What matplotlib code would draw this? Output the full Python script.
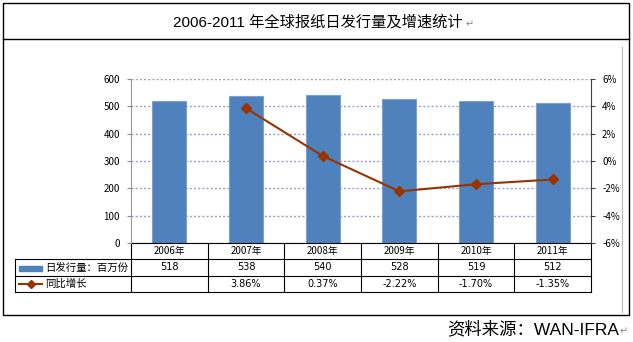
import numpy as np
import matplotlib.pyplot as plt
from matplotlib.lines import Line2D
from matplotlib.patches import Rectangle
from matplotlib.transforms import blended_transform_factory

plt.rcParams['font.family'] = ['Noto Sans CJK SC', 'DejaVu Sans']

# data
years = ["2006年", "2007年", "2008年", "2009年", "2010年", "2011年"]
circulation = [518, 538, 540, 528, 519, 512]
growth = [None, 3.86, 0.37, -2.22, -1.70, -1.35]

TITLE = "2006-2011 年全球报纸日发行量及增速统计"
BAR_LABEL = "日发行量：百万份"
LINE_LABEL = "同比增长"
SOURCE = "资料来源：WAN-IFRA"

BAR_COLOR = "#4F81BD"
LINE_COLOR = "#993300"
GRID_COLOR = "#A09CCB"

W, H = 633, 342
fig = plt.figure(figsize=(W / 100, H / 100), dpi=100)


def fx(px):
    return px / W


def fy(py):
    return 1 - py / H


# axes placement (pixels of the reference)
L, R, T, B = 131, 591, 79, 243
ax = fig.add_axes([fx(L), fy(B), fx(R) - fx(L), fy(T) - fy(B)])
ax2 = ax.twinx()

x = np.arange(len(years))
ax.bar(x, circulation, width=0.44, color=BAR_COLOR, edgecolor="#7DA0CE",
       linewidth=0.8, zorder=2)
ax.set_xlim(-0.5, len(years) - 0.5)
ax.set_ylim(0, 600)
ax.set_yticks(np.arange(0, 601, 100))
ax.yaxis.grid(True, color=GRID_COLOR, linestyle=(0, (1.5, 1.5)), linewidth=1)
ax.set_axisbelow(True)
ax.set_xticks([])
ax.tick_params(axis="y", length=3, color="#888888", labelsize=7, pad=5)
for s in ["top", "bottom", "right"]:
    ax.spines[s].set_visible(False)
ax.spines["left"].set_color("#999999")

gx = [i for i, g in zip(x, growth) if g is not None]
gy = [g for g in growth if g is not None]
ax2.plot(gx, gy, color=LINE_COLOR, linewidth=1.5, marker="D", markersize=5,
         zorder=3)
ax2.set_ylim(-6, 6)
ax2.set_yticks(np.arange(-6, 7, 2))
ax2.set_yticklabels(["%d%%" % v for v in range(-6, 7, 2)])
ax2.tick_params(axis="y", length=3, color="#404040", labelsize=7, pad=5)
for s in ["top", "bottom", "left"]:
    ax2.spines[s].set_visible(False)
ax2.spines["right"].set_color("#404040")

# data table under the chart
tr = blended_transform_factory(ax.transData, ax.transAxes)
ah = B - T
r1 = -(259 - B) / ah
r2 = -(276 - B) / ah
r3 = -(292 - B) / ah
left_ax = (15 - L) / (R - L)
kw = dict(color="black", linewidth=0.8, clip_on=False)
# horizontal lines
ax.add_line(Line2D([0, 1], [0, 0], transform=ax.transAxes, **kw))
for yy in [r1, r2, r3]:
    ax.add_line(Line2D([left_ax, 1], [yy, yy], transform=ax.transAxes, **kw))
# vertical lines
ax.add_line(Line2D([left_ax, left_ax], [r1, r3], transform=ax.transAxes, **kw))
for b in np.arange(-0.5, len(years), 1.0):
    ax.add_line(Line2D([b, b], [0, r3], transform=tr, **kw))

for i, yr in enumerate(years):
    ax.text(i, r1 / 2, yr, transform=tr, ha="center", va="center", fontsize=7)
    ax.text(i, (r1 + r2) / 2, str(circulation[i]), transform=tr,
            ha="center", va="center", fontsize=7, family="DejaVu Sans")
    if growth[i] is not None:
        ax.text(i, (r2 + r3) / 2, "%.2f%%" % growth[i], transform=tr,
                ha="center", va="center", fontsize=7, family="DejaVu Sans")

# legend keys inside the table
ax.add_patch(Rectangle((fx(19), fy(271)), fx(42) - fx(19), fy(266) - fy(271),
                       transform=fig.transFigure, color=BAR_COLOR,
                       clip_on=False))
fig.text(fx(45), fy(267.5), BAR_LABEL, ha="left", va="center", fontsize=7.5)
fig.add_artist(Line2D([fx(19), fx(30.5), fx(42)], [fy(284)] * 3,
                      color=LINE_COLOR, linewidth=1.5, marker="D",
                      markersize=4, markevery=[1],
                      transform=fig.transFigure))
fig.text(fx(45), fy(284), LINE_LABEL, ha="left", va="center", fontsize=7.5)

# frame and title
fig.add_artist(Rectangle((fx(3), fy(315)), fx(629) - fx(3), fy(3) - fy(315),
                         transform=fig.transFigure, fill=False,
                         edgecolor="black", linewidth=1))
fig.add_artist(Line2D([fx(3), fx(629)], [fy(39), fy(39)], color="black",
                      linewidth=1, transform=fig.transFigure))
fig.add_artist(Line2D([fx(622), fx(622)], [fy(47), fy(312)], color="#BBBBBB",
                      linewidth=0.8, transform=fig.transFigure))
fig.text(fx(318), fy(22), TITLE, ha="center", va="center", fontsize=11,
         family=["Liberation Sans", "Noto Sans CJK SC"])
fig.text(fx(466), fy(24), "\u21b5", ha="left", va="center", fontsize=7,
         color="#888888", family="DejaVu Sans")
fig.text(fx(619), fy(329), SOURCE, ha="right", va="center", fontsize=12.5,
         family=["Liberation Sans", "Noto Sans CJK SC"])
fig.text(fx(620), fy(331), "\u21b5", ha="left", va="center", fontsize=7,
         color="#888888", family="DejaVu Sans")

fig.savefig("out.png", dpi=100)
